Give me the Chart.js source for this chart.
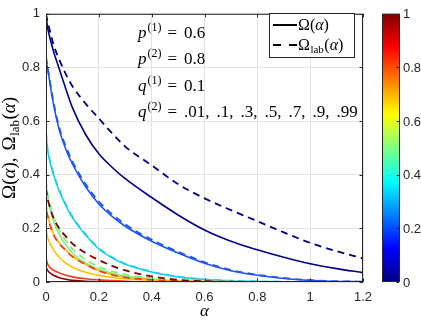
<!DOCTYPE html>
<html><head><meta charset="utf-8">
<script src="https://cdn.jsdelivr.net/npm/chart.js@4.4.1/dist/chart.umd.min.js"></script>
<style>html,body{margin:0;padding:0;background:#fff;}canvas{display:block;}</style>
</head><body>
<canvas id="c" width="421" height="320"></canvas>
<script>
// ---- data ----
const alpha = [0,0.005,0.01,0.02,0.03,0.05,0.075,0.1,0.15,0.2,0.25,0.3,0.4,0.5,0.6,0.7,0.8,0.9,1.0,1.1,1.2];
const q2Values = [0.01,0.1,0.3,0.5,0.7,0.9,0.99];
const q2Colors = ['#00008c','#1f55f5','#1ccdf0','#80f080','#ffbf00','#f53a14','#850000'];
const p1 = 0.6, p2 = 0.8, q1 = 0.1;
// Omega(alpha), solid
const omega_q001 = [1.0,0.955,0.93,0.89,0.855,0.795,0.72,0.65,0.55,0.478,0.428,0.385,0.315,0.25,0.194,0.152,0.12,0.092,0.068,0.05,0.035];
const omega_q01  = [0.838,0.8,0.772,0.71,0.655,0.568,0.495,0.44,0.355,0.291,0.245,0.208,0.152,0.108,0.07,0.042,0.025,0.013,0.006,0.002,0.001];
const omega_q03  = [0.56,0.5,0.47,0.43,0.395,0.34,0.285,0.24,0.175,0.123,0.09,0.066,0.037,0.019,0.009,0.004,0.002,0.001,0,0,0];
const omega_q05  = [0.37,0.32,0.295,0.255,0.222,0.178,0.138,0.108,0.07,0.048,0.033,0.022,0.011,0.005,0.002,0.001,0,0,0,0,0];
const omega_q07  = [0.2,0.17,0.155,0.135,0.118,0.092,0.07,0.055,0.036,0.025,0.017,0.012,0.006,0.003,0.001,0,0,0,0,0,0];
const omega_q09  = [0.09,0.07,0.06,0.05,0.043,0.034,0.025,0.019,0.012,0.008,0.005,0.003,0.001,0,0,0,0,0,0,0,0];
const omega_q099 = [0.055,0.045,0.038,0.03,0.024,0.016,0.01,0.006,0.003,0.001,0,0,0,0,0,0,0,0,0,0,0];
// Omega_lab(alpha), dashed
const omegaLab_q001 = [1.0,0.975,0.955,0.915,0.88,0.83,0.775,0.73,0.665,0.61,0.555,0.505,0.435,0.365,0.312,0.268,0.227,0.185,0.146,0.115,0.088];
const omegaLab_q01  = [0.84,0.805,0.778,0.718,0.663,0.577,0.505,0.45,0.365,0.3,0.253,0.215,0.158,0.113,0.074,0.045,0.027,0.015,0.007,0.003,0.001];
const omegaLab_q03  = [0.56,0.503,0.474,0.434,0.399,0.344,0.289,0.244,0.178,0.126,0.092,0.068,0.038,0.02,0.01,0.005,0.002,0.001,0,0,0];
const omegaLab_q05  = [0.38,0.335,0.31,0.272,0.24,0.195,0.155,0.124,0.083,0.057,0.04,0.028,0.014,0.007,0.003,0.001,0,0,0,0,0];
const omegaLab_q07  = [0.29,0.255,0.235,0.2,0.176,0.145,0.12,0.097,0.066,0.043,0.028,0.018,0.008,0.004,0.002,0.001,0,0,0,0,0];
const omegaLab_q09  = [0.285,0.252,0.232,0.198,0.174,0.143,0.118,0.095,0.065,0.042,0.027,0.017,0.008,0.003,0.001,0,0,0,0,0,0];
const omegaLab_q099 = [0.35,0.315,0.295,0.262,0.235,0.2,0.17,0.143,0.108,0.082,0.06,0.043,0.021,0.008,0.003,0.001,0,0,0,0,0];
const xTicks = [0,0.2,0.4,0.6,0.8,1,1.2];
const yTicks = [0,0.2,0.4,0.6,0.8,1];
const cbTicks = [0,0.2,0.4,0.6,0.8,1];

const solidSeries = [omega_q001,omega_q01,omega_q03,omega_q05,omega_q07,omega_q09,omega_q099];
const dashedSeries = [omegaLab_q001,omegaLab_q01,omegaLab_q03,omegaLab_q05,omegaLab_q07,omegaLab_q09,omegaLab_q099];

const datasets = [];
q2Values.forEach((q,i)=>{
  datasets.push({label:'Omega q2='+q, data: alpha.map((a,k)=>({x:a,y:solidSeries[i][k]})),
    borderColor:q2Colors[i], borderWidth:1.6, pointRadius:0, fill:false,
    cubicInterpolationMode:'monotone', order: 2*(10-i)+1});
  datasets.push({label:'Omega_lab q2='+q, data: alpha.map((a,k)=>({x:a,y:dashedSeries[i][k]})),
    borderColor:q2Colors[i], borderWidth:1.8, borderDash:[7,5], borderDashOffset: i===5?6:0,
    pointRadius:0, fill:false, cubicInterpolationMode:'monotone', order: 2*(10-i)});
});

const AX='#262626';
const SERIF='"Liberation Serif", "Times New Roman", serif';
const SANS='"Liberation Sans", Arial, sans-serif';

function runs(ctx, x, y, list){
  for(const r of list){
    ctx.font = r.f;
    ctx.fillText(r.t, x, y + (r.dy||0));
    x += ctx.measureText(r.t).width + (r.sp||0);
  }
  return x;
}
function runsWidth(ctx, list){
  let w=0; for(const r of list){ctx.font=r.f; w+=ctx.measureText(r.t).width+(r.sp||0);} return w;
}
const fmtShort = v => String(v).replace(/^0\./,'.');

const decor = {
  id:'decor',
  afterDraw(chart){
    const ctx = chart.ctx, ca = chart.chartArea, xs = chart.scales.x, ys = chart.scales.y;
    ctx.save();
    // box
    ctx.strokeStyle = AX; ctx.lineWidth = 1;
    ctx.strokeRect(ca.left+0.5, ca.top+0.5, ca.right-ca.left-1, ca.bottom-ca.top-1);
    // inward ticks
    ctx.beginPath();
    xTicks.forEach(v=>{const p=Math.round(xs.getPixelForValue(v))+0.5;
      ctx.moveTo(p,ca.bottom); ctx.lineTo(p,ca.bottom-3.5);
      ctx.moveTo(p,ca.top); ctx.lineTo(p,ca.top+3.5);});
    yTicks.forEach(v=>{const p=Math.round(ys.getPixelForValue(v))+0.5;
      ctx.moveTo(ca.left,p); ctx.lineTo(ca.left+3.5,p);
      ctx.moveTo(ca.right,p); ctx.lineTo(ca.right-3.5,p);});
    ctx.stroke();

    ctx.fillStyle = '#000';
    ctx.textBaseline = 'alphabetic';
    ctx.textAlign = 'left';
    // annotations
    const big = '17px '+SERIF, it = 'italic 17px '+SERIF, sm = '12px '+SERIF;
    const head = (v,s,y,valueRuns)=>runs(ctx, 138, y, [{t:v,f:it,sp:1},{t:s,f:sm,dy:-7,sp:6},{t:'=',f:big,sp:7}].concat(valueRuns));
    head('p','(1)',37.5,[{t:String(p1),f:big}]);
    head('p','(2)',64,[{t:String(p2),f:big}]);
    head('q','(1)',90.5,[{t:String(q1),f:big}]);
    const qr = [];
    q2Values.forEach((q,i)=>{ qr.push({t:fmtShort(q),f:big}); if(i<q2Values.length-1) qr.push({t:',',f:big,sp:7}); });
    head('q','(2)',117,qr);

    // legend
    const lx=269, ly=13, lw=85, lh=44;
    ctx.fillStyle='#fff'; ctx.fillRect(lx,ly,lw,lh);
    ctx.strokeStyle=AX; ctx.lineWidth=1; ctx.strokeRect(lx+0.5,ly+0.5,lw,lh);
    ctx.strokeStyle='#000'; ctx.lineWidth=2;
    ctx.beginPath(); ctx.moveTo(273,25); ctx.lineTo(297,25); ctx.stroke();
    ctx.beginPath(); ctx.moveTo(273,45); ctx.lineTo(281,45); ctx.moveTo(289,45); ctx.lineTo(297,45); ctx.stroke();
    ctx.fillStyle='#000';
    const lf='16px '+SERIF, lfi='italic 16px '+SERIF, lfs='11px '+SERIF;
    runs(ctx, 298, 30, [{t:'Ω(',f:lf},{t:'α',f:lfi},{t:')',f:lf}]);
    runs(ctx, 298, 50, [{t:'Ω',f:lf,sp:0.5},{t:'lab',f:lfs,dy:3,sp:0.5},{t:'(',f:lf},{t:'α',f:lfi},{t:')',f:lf}]);

    // x title
    ctx.font='italic 17px '+SERIF; ctx.textAlign='center';
    ctx.fillText('α', (ca.left+ca.right)/2, 316);
    // y title
    ctx.textAlign='left';
    const yf='19px '+SERIF, yfi='italic 19px '+SERIF, yfs='13px '+SERIF;
    const yl = [{t:'Ω(',f:yf},{t:'α',f:yfi},{t:'),',f:yf,sp:7},{t:'Ω',f:yf,sp:0.5},{t:'lab',f:yfs,dy:3.5,sp:0.5},{t:'(',f:yf},{t:'α',f:yfi},{t:')',f:yf}];
    const w = runsWidth(ctx, yl);
    ctx.save(); ctx.translate(15, (ca.top+ca.bottom)/2); ctx.rotate(-Math.PI/2);
    runs(ctx, -w/2, 0, yl); ctx.restore();

    // colorbar
    const cbx=382, cbw=18, y0=ys.getPixelForValue(0), y1=ys.getPixelForValue(1);
    const g = ctx.createLinearGradient(0,y0,0,y1);
    g.addColorStop(0,'rgb(0,0,128)'); g.addColorStop(0.125,'rgb(0,0,255)');
    g.addColorStop(0.375,'rgb(0,255,255)'); g.addColorStop(0.625,'rgb(255,255,0)');
    g.addColorStop(0.875,'rgb(255,0,0)'); g.addColorStop(1,'rgb(128,0,0)');
    ctx.fillStyle=g; ctx.fillRect(cbx,y1,cbw,y0-y1);
    ctx.strokeStyle=AX; ctx.lineWidth=1; ctx.strokeRect(cbx+0.5,y1+0.5,cbw-1,y0-y1-1);
    ctx.fillStyle=AX; ctx.font='13px '+SANS;
    ctx.textBaseline='middle'; ctx.textAlign='left';
    ctx.beginPath();
    cbTicks.forEach(v=>{const p=ys.getPixelForValue(v);
      ctx.fillText(String(v), cbx+cbw+3, p+1);
      const pp=Math.round(p)+0.5; ctx.moveTo(cbx+cbw-1,pp); ctx.lineTo(cbx+cbw-3.5,pp);
    });
    ctx.stroke();
    ctx.restore();
  }
};

new Chart(document.getElementById('c'), {
  type:'line',
  data:{datasets},
  options:{
    responsive:false, animation:false, devicePixelRatio:1,
    layout:{padding:{left:0,right:58,top:6,bottom:0}},
    plugins:{legend:{display:false}, tooltip:{enabled:false}},
    scales:{
      x:{type:'linear', min:0, max:1.2,
        afterFit(s){s.height=38;},
        afterBuildTicks(s){s.ticks = xTicks.map(v=>({value:v}));},
        grid:{color:'#e3e3e3', drawTicks:false, lineWidth:1},
        border:{display:false},
        ticks:{padding:8, color:AX, font:{family:SANS, size:13},
          callback:v=>String(+(+v).toFixed(1)), maxRotation:0, autoSkip:false}},
      y:{type:'linear', min:0, max:1,
        afterFit(s){s.width=46;},
        afterBuildTicks(s){s.ticks = yTicks.map(v=>({value:v}));},
        grid:{color:'#e3e3e3', drawTicks:false, lineWidth:1},
        border:{display:false},
        ticks:{padding:6, color:AX, font:{family:SANS, size:13},
          callback:v=>String(+(+v).toFixed(1))}}
    }
  },
  plugins:[decor]
});
</script>
</body></html>
